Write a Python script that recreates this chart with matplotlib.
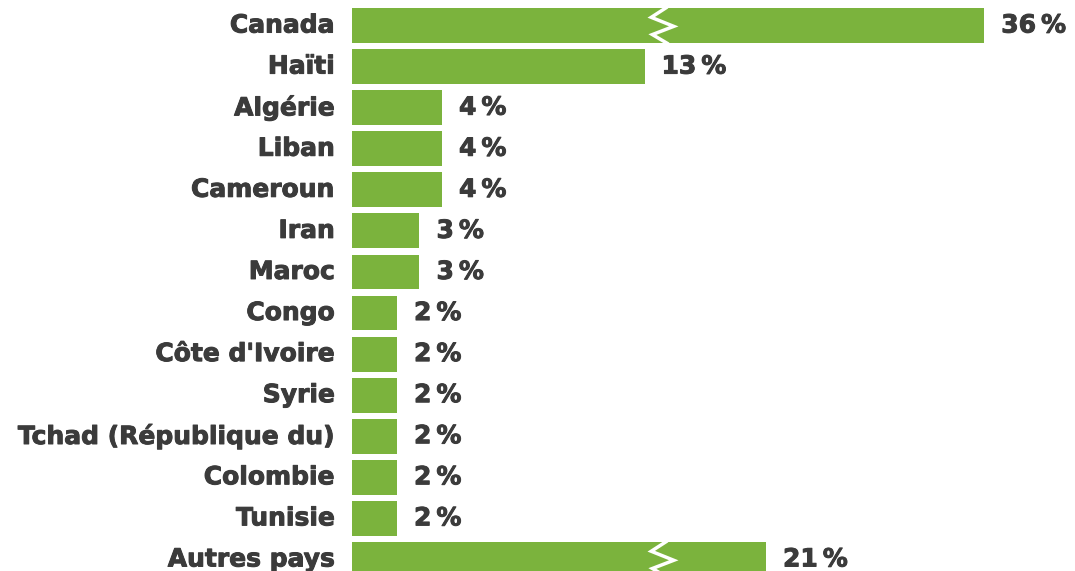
import matplotlib
matplotlib.use("Agg")
import matplotlib.pyplot as plt
import matplotlib.patheffects as pe

# Data
countries = ["Canada", "Haïti", "Algérie", "Liban", "Cameroun", "Iran", "Maroc",
             "Congo", "Côte d'Ivoire", "Syrie", "Tchad (République du)",
             "Colombie", "Tunisie", "Autres pays"]
values = [36, 13, 4, 4, 4, 3, 3, 2, 2, 2, 2, 2, 2, 21]
# bars drawn shortened (axis break) -> shown length in %
broken_length = {"Canada": 28.1, "Autres pays": 18.4}
break_at = 13.8

green = "#7bb33d"
text_col = "#3b3b3b"
plt.rcParams['font.family'] = ['DejaVu Sans']

fig = plt.figure(figsize=(10.75, 5.71), dpi=100)
ax = fig.add_axes([352 / 1075, 1 - 580 / 571, 720 / 1075, 575 / 571])
ax.set_xlim(0, 32)
ax.set_ylim(13.5, -0.5)
ax.axis('off')

# slightly heavier text
heavy = [pe.withStroke(linewidth=0.7, foreground=text_col)]

for i, (name, v) in enumerate(zip(countries, values)):
    shown = broken_length.get(name, v)
    ax.barh(i, shown, height=0.85, color=green, edgecolor='none')
    ax.annotate(name, (0, i), xytext=(-17, 0), textcoords='offset pixels',
                ha='right', va='center', fontsize=18, fontweight='bold',
                color=text_col, path_effects=heavy)
    ax.annotate(f"{v}\u2009%", (shown, i), xytext=(17, 0), textcoords='offset pixels',
                ha='left', va='center', fontsize=18, fontweight='bold',
                color=text_col, path_effects=heavy)
    if name in broken_length:
        # zigzag break mark
        dx = [0.15, -0.5, 0.5, -0.45, 0.2]
        dy = [-0.43, -0.2, 0.02, 0.22, 0.43]
        ax.plot([break_at + d for d in dx], [i + d for d in dy],
                color='white', lw=2.5, solid_joinstyle='miter', clip_on=False)

fig.savefig("out.png", dpi=100, facecolor='white')
